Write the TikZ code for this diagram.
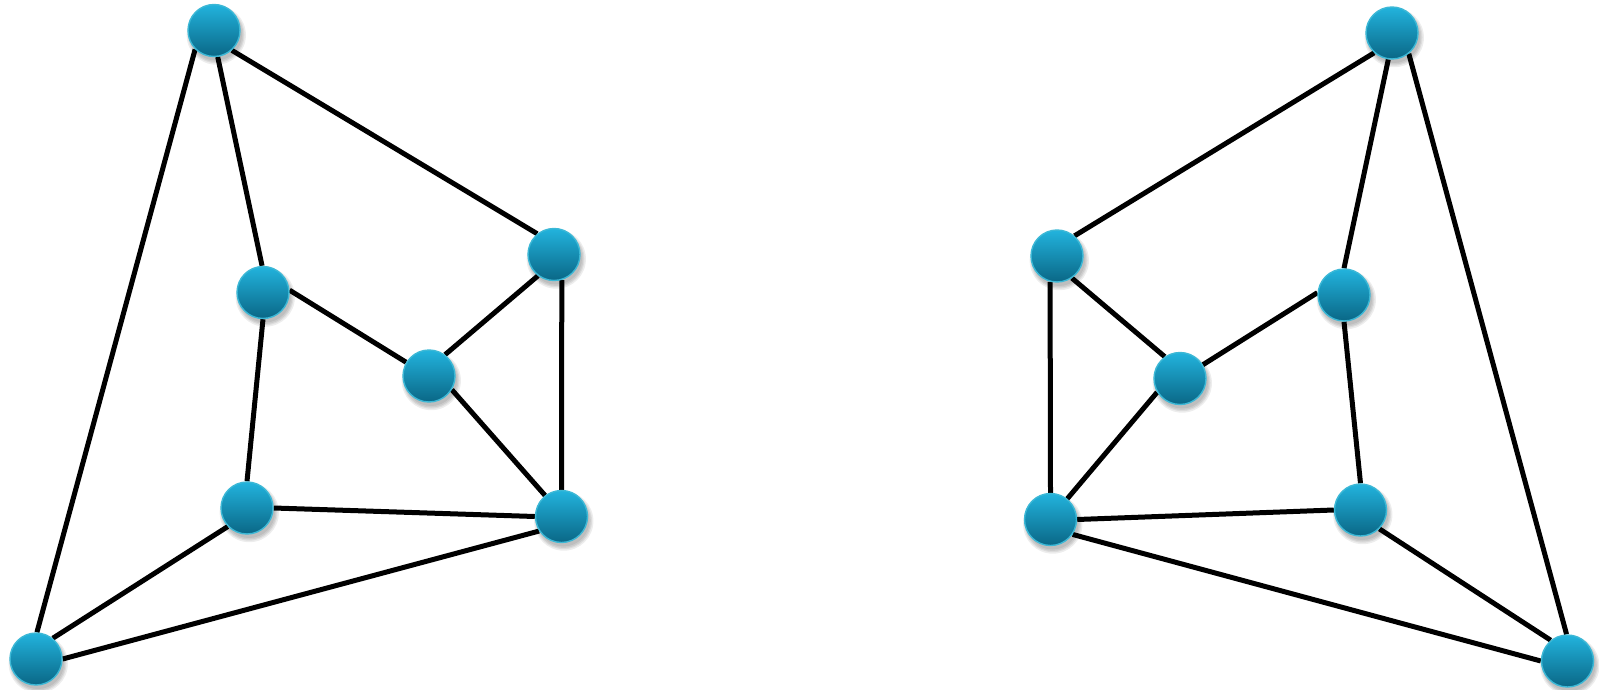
\documentclass[tikz,border=0pt]{standalone}
\usetikzlibrary{shadows}
\definecolor{balltop}{HTML}{22B3DD}
\definecolor{ballbot}{HTML}{0A6786}
\definecolor{ballrim}{HTML}{3CB8D6}
\pgfdeclarelayer{bg}
\pgfsetlayers{bg,main}
\tikzset{
  softshadow/.style={general shadow={shadow scale=#1, shadow xshift=2pt, shadow yshift=-4pt, opacity=0.07, fill=black}},
  ball/.style={circle, minimum size=52pt, inner sep=0pt, draw=ballrim, line width=1.4pt,
    top color=balltop, bottom color=ballbot,
    softshadow=1.14, softshadow=1.09, softshadow=1.05, softshadow=1.0},
  edge/.style={line width=5pt, black}
}
\begin{document}
\begin{tikzpicture}[x=1pt,y=-1pt]
\useasboundingbox (0,0) rectangle (1599,690);
% left graph
\node[ball] (a) at (214,30.5) {};
\node[ball] (b) at (263,292.5) {};
\node[ball] (c) at (554,254.5) {};
\node[ball] (d) at (429,376) {};
\node[ball] (e) at (247,508) {};
\node[ball] (f) at (561.5,516.5) {};
\node[ball] (g) at (36,659) {};
% right graph
\node[ball] (ra) at (1392,33) {};
\node[ball] (rb) at (1344,295) {};
\node[ball] (rc) at (1057,256) {};
\node[ball] (rd) at (1180,378.5) {};
\node[ball] (re) at (1360.5,510) {};
\node[ball] (rf) at (1050.5,519.5) {};
\node[ball] (rg) at (1567.5,661) {};
\begin{pgfonlayer}{bg}
\begin{scope}[edge]
\draw (a.225) -- (g.88);
\draw (a.278) -- (b.92);
\draw (a.312) -- (c.129);
\draw (b.5) -- (d.149);
\draw (b.270) -- (e.90);
\draw (c.233) -- (d.53);
\draw (c.287) -- (f.90);
\draw (d.329) -- (f.128);
\draw (e.0) -- (f.180);
\draw (e.224) -- (g.51);
\draw (g.0) -- (f.213);
\draw (ra.309) -- (rg.92);
\draw (ra.262) -- (rb.90);
\draw (ra.228) -- (rc.49);
\draw (rb.175) -- (rd.31);
\draw (rb.270) -- (re.90);
\draw (rc.304) -- (rd.125);
\draw (rc.255) -- (rf.90);
\draw (rd.211) -- (rf.51);
\draw (re.180) -- (rf.0);
\draw (re.315) -- (rg.129);
\draw (rg.180) -- (rf.326);
\end{scope}
\end{pgfonlayer}
\end{tikzpicture}
\end{document}
